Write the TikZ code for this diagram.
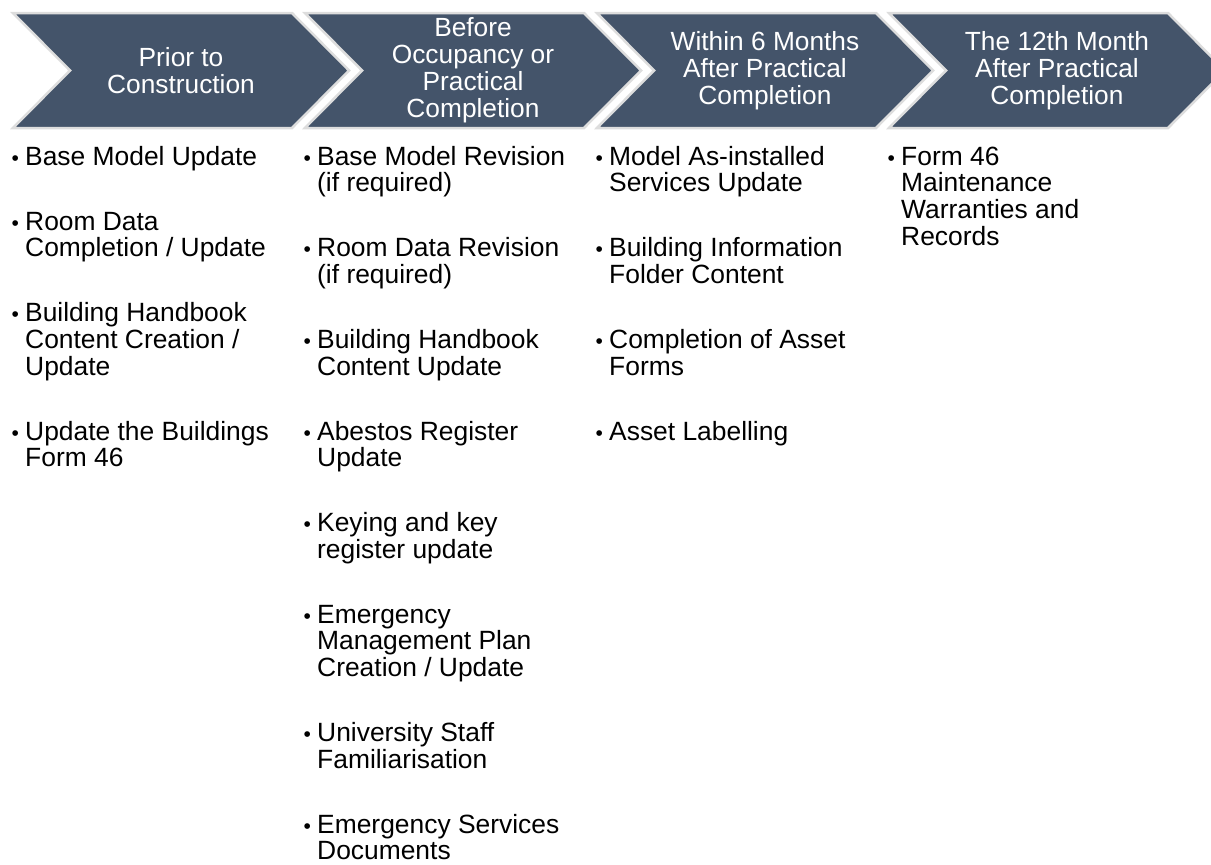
\documentclass[tikz,border=0pt]{standalone}
\usepackage{fontspec}
\setmainfont{Liberation Sans}
\definecolor{chev}{HTML}{44546A}
\definecolor{chevedge}{HTML}{DDDDDD}
\newcommand\mybul{\llap{{\fontsize{21}{21}\selectfont\textbullet}\hspace{6.3pt}}\rule{0pt}{20pt}}
\tikzset{
  chevron/.style={fill=chev, draw=chevedge, line width=2.5pt, line join=miter},
  phase/.style={text=white, align=center, inner sep=0pt, font=\fontsize{26.3}{27}\selectfont},
  item/.style={anchor=north west, inner sep=0pt, align=left, text=black, font=\fontsize{26.4}{26.6}\selectfont},
}
\begin{document}
\begin{tikzpicture}[x=1pt,y=-1pt]
\useasboundingbox (0,0) rectangle (1211,865);
\clip (0,0) rectangle (1211,865);
\foreach \L in {13,305,597,889} {
  \draw[chevron] (\L,13) -- ++(279,0) -- ++(57,57.5) -- ++(-57,57.5) -- ++(-279,0) -- ++(57,-57.5) -- cycle;
}
\node[phase] (p1) at (181,70.5) {Prior to\\Construction};
\node[phase] (p2) at (473,70.5) {Before\\Occupancy or\\Practical\\Completion};
\node[phase] (p3) at (765,70.5) {Within 6 Months\\After Practical\\Completion};
\node[phase] (p4) at (1057,70.5) {The 12th Month\\After Practical\\Completion};
% column 1
\node[item] (a1) at (25,145) {\mybul Base Model Update};
\node[item] (a2) at (25,210) {\mybul Room Data\\Completion / Update};
\node[item] (a3) at (25,301.6) {\mybul Building Handbook\\Content Creation /\\Update};
\node[item] (a4) at (25,419.8) {\mybul Update the Buildings\\Form 46};
% column 2
\node[item] (b1) at (317,145) {\mybul Base Model Revision\\(if required)};
\node[item] (b2) at (317,236.6) {\mybul Room Data Revision\\(if required)};
\node[item] (b3) at (317,328.2) {\mybul Building Handbook\\Content Update};
\node[item] (b4) at (317,419.8) {\mybul Abestos Register\\Update};
\node[item] (b5) at (317,511.4) {\mybul Keying and key\\register update};
\node[item] (b6) at (317,603) {\mybul Emergency\\Management Plan\\Creation / Update};
\node[item] (b7) at (317,721.2) {\mybul University Staff\\Familiarisation};
\node[item] (b8) at (317,812.8) {\mybul Emergency Services\\Documents};
% column 3
\node[item] (c1) at (609,145) {\mybul Model As-installed\\Services Update};
\node[item] (c2) at (609,236.6) {\mybul Building Information\\Folder Content};
\node[item] (c3) at (609,328.2) {\mybul Completion of Asset\\Forms};
\node[item] (c4) at (609,419.8) {\mybul Asset Labelling};
% column 4
\node[item] (d1) at (901,145) {\mybul Form 46\\Maintenance\\Warranties and\\Records};
\end{tikzpicture}
\end{document}
